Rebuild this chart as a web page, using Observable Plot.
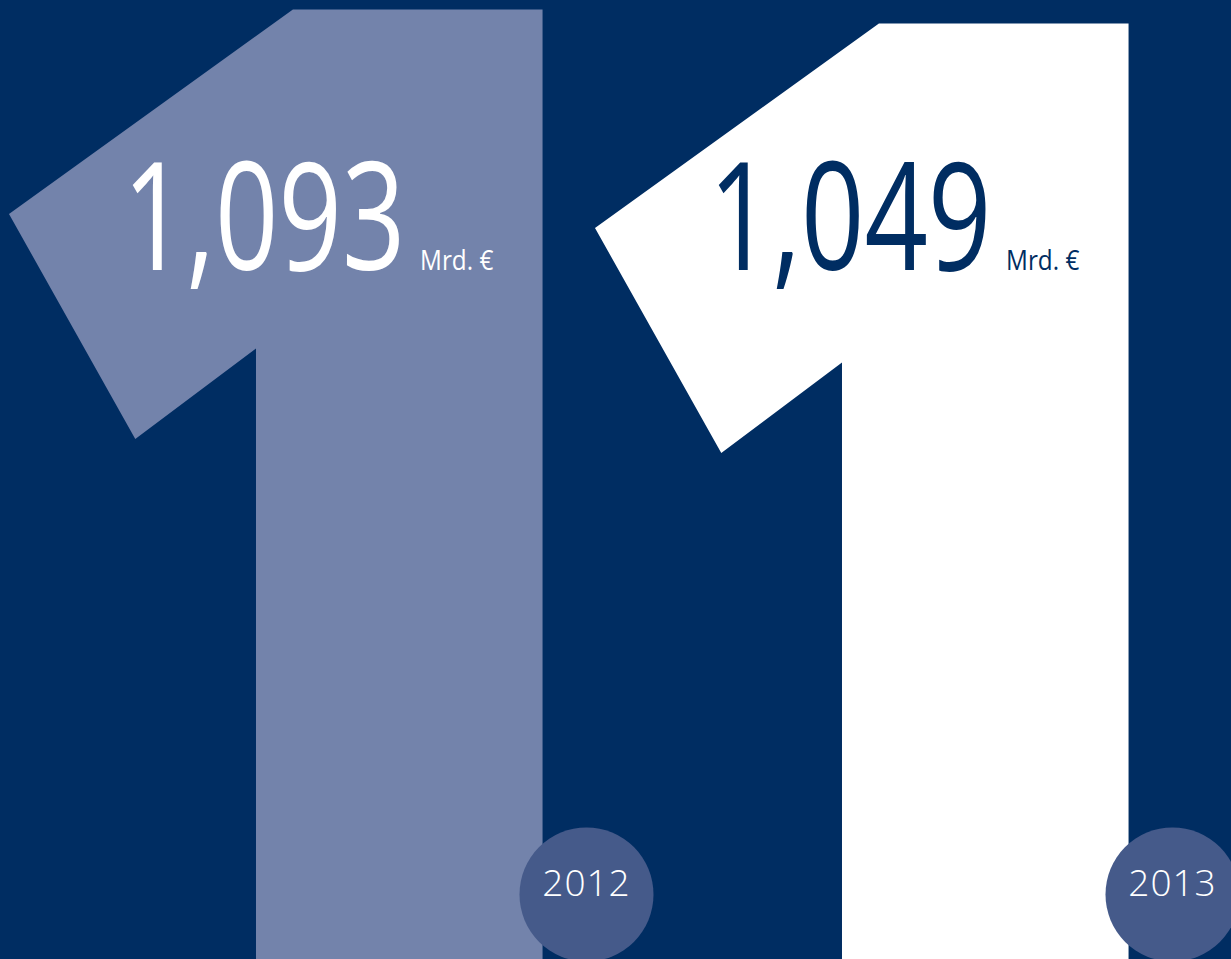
<!DOCTYPE html>
<html><head><meta charset="utf-8">
<script src="https://cdn.jsdelivr.net/npm/d3@7"></script>
<script src="https://cdn.jsdelivr.net/npm/@observablehq/plot@0.6"></script>
<style>
html,body{margin:0;padding:0;background:#002d62;overflow:hidden}
#chart svg{display:block}
</style></head><body><div id="chart"></div>
<script>
// ---- data ----
const years = ["2012", "2013"];
const values = [1.093, 1.049];          // Mrd. €
const unit = "Mrd. €";

// ---- styles ----
const bg = "#002d62";
const glyphFills = ["#7383ab", "#ffffff"];
const labelFills = ["#ffffff", "#002d62"];
const badgeFill = "#455a8a";
const numFont = "'Open Sans', sans-serif";

// ---- layout ----
const W = 1231, H = 959;
const yMin = -1.893, yMax = 1.121;      // value scale mapped onto the canvas
// "1" glyph template: fx = fraction of a glyph slot, depth = value units below the top
const template = [
  {fx: 0.499, depth: 0},
  {fx: 0.925, depth: 0},
  {fx: 0.925, depth: null},   // to the bottom
  {fx: 0.436, depth: null},
  {fx: 0.436, depth: 1.066},
  {fx: 0.230, depth: 1.350},
  {fx: 0.0145, depth: 0.643}
];

const rows = years.map((year, i) => ({year, value: values[i], i,
  label: values[i].toFixed(3).replace(".", ",")}));

const marks = [];
rows.forEach(r => {
  const pts = template.map(t => ({x: r.i + t.fx, y: t.depth === null ? yMin : r.value - t.depth}));
  marks.push(Plot.line(pts, {x: "x", y: "y", curve: "linear-closed", fill: glyphFills[r.i], stroke: "none"}));
});

marks.push(
  Plot.text(rows, {x: d => d.i + 0.691, frameAnchor: "top", dy: 269, lineAnchor: "bottom",
    text: "label", textAnchor: "end", fill: d => labelFills[d.i], fontSize: 150,
    fontFamily: numFont, fontWeight: 400, className: "num"}),
  Plot.text(rows, {x: d => d.i + 0.716, frameAnchor: "top", dy: 269, lineAnchor: "bottom",
    text: () => unit, textAnchor: "start", fill: d => labelFills[d.i], fontSize: 27,
    fontFamily: numFont, fontWeight: 400, className: "unit"}),
  Plot.dot(rows, {x: d => d.i + 1.0, frameAnchor: "bottom", dy: -65, r: 67, fill: badgeFill, stroke: "none"}),
  Plot.text(rows, {x: d => d.i + 1.0, frameAnchor: "bottom", dy: -64, text: "year",
    fill: "white", fontSize: 37, fontFamily: "'Open Sans', sans-serif", fontWeight: 300, className: "yr"})
);

const chart = Plot.plot({
  width: W, height: H, margin: 0,
  style: {background: bg, overflow: "hidden"},
  x: {domain: [0, 2], range: [0, 1172], axis: null},
  y: {domain: [yMin, yMax], range: [H, 0], axis: null},
  color: {type: "identity"},
  marks
});
// condensed look: squeeze the glyphs horizontally around their anchor point
function squeeze(sel, sx) {
  d3.select(chart).selectAll(sel).each(function() {
    const t = this.getAttribute("transform") || "";
    this.setAttribute("transform", t + ` scale(${sx},1)`);
  });
}
squeeze("g.num text", 0.74);
squeeze("g.unit text", 0.9);
d3.select(chart).selectAll("g.yr text").attr("letter-spacing", "1px");
document.getElementById("chart").appendChild(chart);
</script></body></html>
